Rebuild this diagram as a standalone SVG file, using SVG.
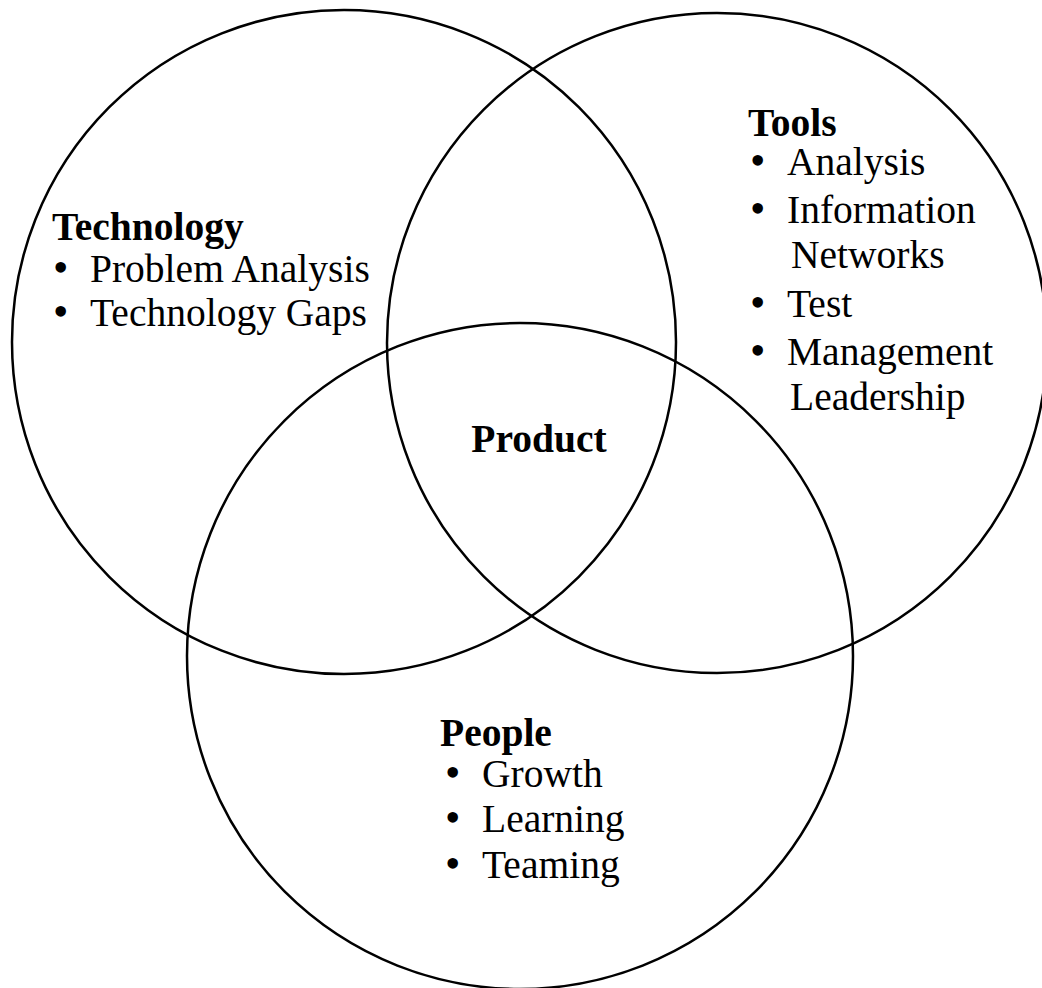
<svg xmlns="http://www.w3.org/2000/svg" width="1042" height="988" viewBox="0 0 1042 988">
<style>
.c{fill:none;stroke:#000;stroke-width:2.5}
text{font-family:"Liberation Serif","Times New Roman",serif;font-size:39.5px;fill:#000}
.h{font-weight:bold}
.b{font-size:44px}
</style>
<rect width="1042" height="988" fill="#fff"/>
<g id="technology">
<circle class="c" cx="344" cy="342" r="332"/>
<text class="h" x="52" y="240">Technology</text>
<text y="282"><tspan class="b" x="53">•</tspan><tspan x="90">Problem Analysis</tspan></text>
<text y="326"><tspan class="b" x="53">•</tspan><tspan x="90">Technology Gaps</tspan></text>
</g>
<g id="tools">
<circle class="c" cx="717" cy="343" r="330"/>
<text class="h" x="748" y="136">Tools</text>
<text y="175"><tspan class="b" x="750">•</tspan><tspan x="787">Analysis</tspan></text>
<text y="223"><tspan class="b" x="750">•</tspan><tspan x="787">Information</tspan></text>
<text x="791" y="268">Networks</text>
<text y="317"><tspan class="b" x="750">•</tspan><tspan x="787">Test</tspan></text>
<text y="365"><tspan class="b" x="750">•</tspan><tspan x="787">Management</tspan></text>
<text x="790" y="410">Leadership</text>
</g>
<g id="people">
<circle class="c" cx="520" cy="656" r="333"/>
<text class="h" x="440" y="746">People</text>
<text y="787"><tspan class="b" x="445">•</tspan><tspan x="482">Growth</tspan></text>
<text y="832"><tspan class="b" x="445">•</tspan><tspan x="482">Learning</tspan></text>
<text y="878"><tspan class="b" x="445">•</tspan><tspan x="482">Teaming</tspan></text>
</g>
<g id="product">
<text class="h" x="539" y="452" text-anchor="middle">Product</text>
</g>
<g id="connectors"/>
</svg>
